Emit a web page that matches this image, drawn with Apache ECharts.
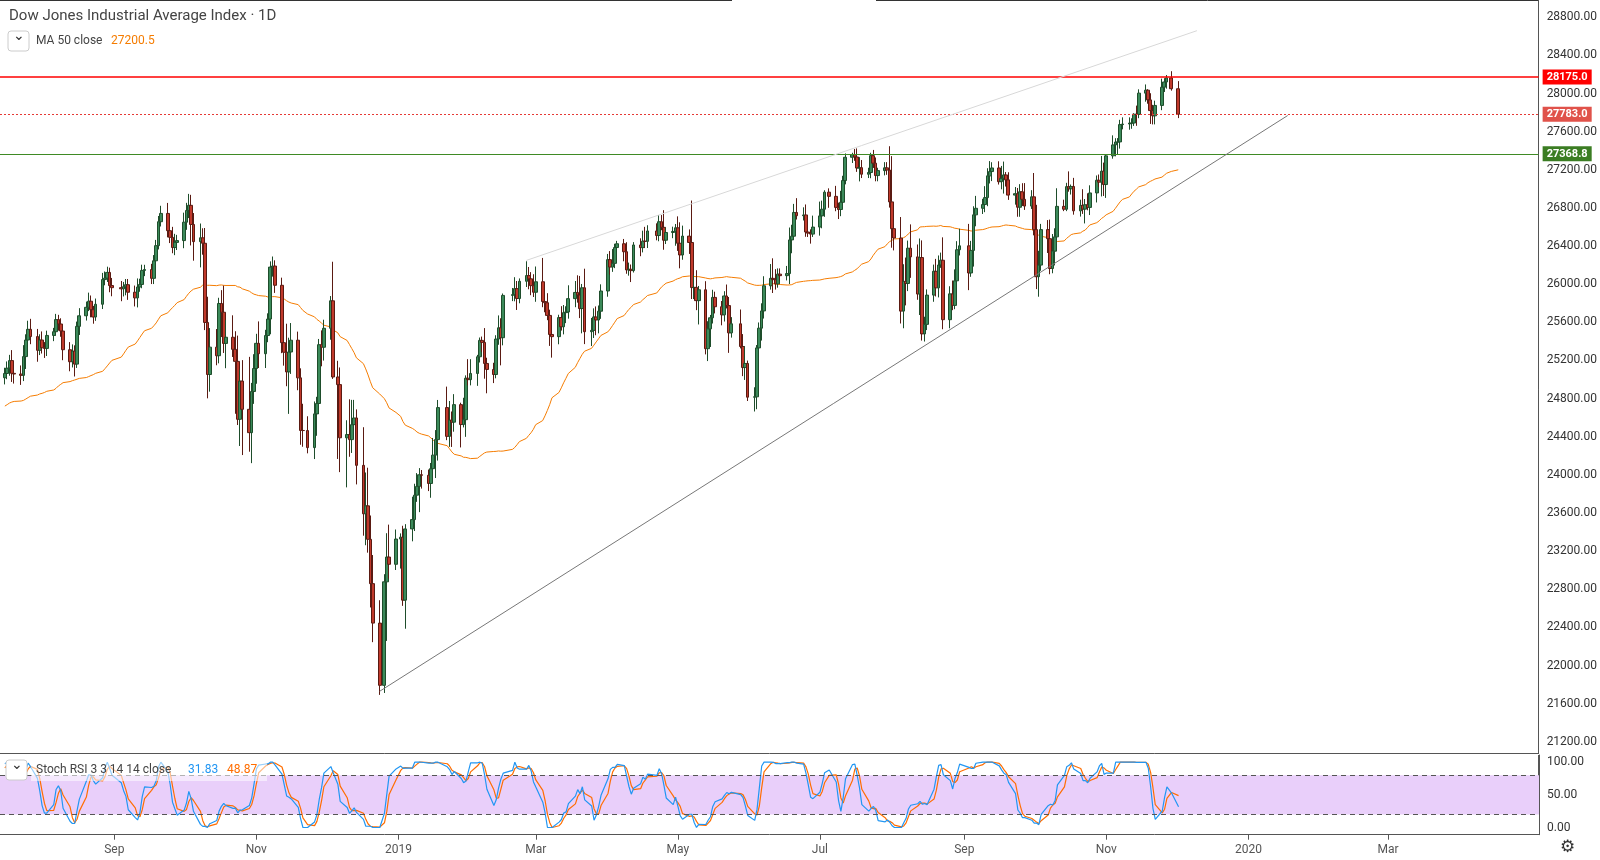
<!DOCTYPE html>
<html><head><meta charset="utf-8">
<script src="https://cdn.jsdelivr.net/npm/echarts@6/dist/echarts.min.js"></script>
<style>html,body{margin:0;padding:0;background:#fff}#c{width:1600px;height:860px}</style>
</head><body><div id="c"></div>
<script>
// ---- data ----
const title = 'Dow Jones Industrial Average Index · 1D';
const warmupCloses = [24262,24357,24360,24542,24739,24831,24899,24706,24768,24713,24715,24834,25013,24886,24834,24811,24753,24361,24667,24415,
 24635,24813,24799,25146,25241,25316,25322,25201,25175,25090,24987,24700,24657,24461,24580,24252,24283,24117,24216,24271,
 24307,24174,24356,24456,24776,24920,24919,24700,24924,25019];
const months = ['2018-07','2018-08','2018-09','2018-10','2018-11','2018-12','2019-01','2019-02','2019-03','2019-04','2019-05','2019-06','2019-07','2019-08','2019-09','2019-10','2019-11','2019-12'];
const dayNums = [
 [16,17,18,19,20,23,24,25,26,27,30,31],
 [1,2,3,6,7,8,9,10,13,14,15,16,17,20,21,22,23,24,27,28,29,30,31],
 [4,5,6,7,10,11,12,13,14,17,18,19,20,21,24,25,26,27,28],
 [1,2,3,4,5,8,9,10,11,12,15,16,17,18,19,22,23,24,25,26,29,30,31],
 [1,2,5,6,7,8,9,12,13,14,15,16,19,20,21,23,26,27,28,29,30],
 [3,4,6,7,10,11,12,13,14,17,18,19,20,21,24,26,27,28,31],
 [2,3,4,7,8,9,10,11,14,15,16,17,18,22,23,24,25,28,29,30,31],
 [1,4,5,6,7,8,11,12,13,14,15,19,20,21,22,25,26,27,28],
 [1,4,5,6,7,8,11,12,13,14,15,18,19,20,21,22,25,26,27,28,29],
 [1,2,3,4,5,8,9,10,11,12,15,16,17,18,22,23,24,25,26,29,30],
 [1,2,3,6,7,8,9,10,13,14,15,16,17,20,21,22,23,24,28,29,30,31],
 [3,4,5,6,7,10,11,12,13,14,17,18,19,20,21,24,25,26,27,28],
 [1,2,3,5,8,9,10,11,12,15,16,17,18,19,22,23,24,25,26,29,30,31],
 [1,2,5,6,7,8,9,12,13,14,15,16,19,20,21,22,23,26,27,28,29,30],
 [3,4,5,6,9,10,11,12,13,16,17,18,19,20,23,24,25,26,27,30],
 [1,2,3,4,7,8,9,10,11,14,15,16,17,18,21,22,23,24,25,28,29,30,31],
 [1,4,5,6,7,8,11,12,13,14,15,18,19,20,21,22,25,26,27,29],
 [2]];
const closes = [
 [25064,25120,25199,25065,25058,25044,25241,25415,25527,25451,25307,25415],
 [25333,25327,25463,25502,25629,25583,25509,25313,25187,25299,25162,25558,25669,25758,25822,25733,25656,25790,26049,26064,26124,25986,25964],
 [25952,25974,25995,25916,25857,25971,25998,26145,26154,26062,26246,26405,26656,26743,26562,26492,26385,26439,26458],
 [26651,26774,26828,26627,26447,26487,26430,25599,25053,25340,25250,25798,25706,25379,25444,25317,25191,24583,24984,24688,24443,24875,25116],
 [25380,25271,25462,25635,26180,26191,25989,25387,25286,25080,25289,25413,25018,24466,24465,24286,24640,24749,25366,25339,25538],
 [25826,25027,24947,24389,24423,24370,24527,24597,24100,23592,23675,23324,22859,22445,21792,22878,23138,23062,23327],
 [23346,22686,23433,23531,23787,23879,24001,23996,23910,24065,24207,24370,24706,24404,24575,24553,24737,24528,24579,25014,24999],
 [25064,25239,25411,25390,25169,25106,25053,25425,25543,25439,25883,25891,25954,25850,26031,26091,26057,25985,25916],
 [26026,25819,25806,25673,25473,25450,25650,25554,25702,25709,25849,25914,25887,25745,25963,25502,25516,25657,25625,25717,25929],
 [26258,26180,26219,26385,26425,26341,26150,26157,26143,26412,26384,26452,26450,26559,26511,26656,26597,26462,26543,26554,26592],
 [26430,26307,26505,26438,25965,25967,25828,25942,25324,25532,25648,25862,25764,25679,25877,25776,25490,25585,25347,25126,25169,24815],
 [24819,25332,25539,25720,25984,26062,26048,26004,26106,26090,26112,26465,26504,26753,26719,26727,26548,26536,26526,26600],
 [26717,26787,26966,26922,26806,26784,26860,27088,27332,27359,27335,27219,27223,27154,27172,27349,27270,27140,27192,27221,27198,26864],
 [26583,26485,25718,26030,26008,26378,26287,25897,26280,25479,25579,25886,26136,25962,26202,26252,25628,25899,25778,26036,26362,26403],
 [26118,26355,26728,26797,26836,26909,27137,27182,27220,27076,27111,27147,27095,26935,26950,26808,26970,26891,26820,26917],
 [26573,26079,26201,26573,26478,26165,26347,26497,26817,26787,27024,27001,27026,26770,26827,26788,26834,26806,26958,27091,27071,27186,27046],
 [27347,27462,27492,27493,27675,27681,27691,27691,27784,27782,28005,28036,27934,27822,27767,27876,28067,28122,28165,28051],
 [27783]];
const wickUp = [
 [60,70,60,110,80,90,120,60,90,110,80,60],
 [90,60,50,40,60,50,60,40,80,70,60,50,80,60,90,60,40,60,70,70,60,50,80],
 [70,50,60,60,70,90,60,60,50,60,60,60,60,80,110,90,110,90,60],
 [100,80,120,110,120,150,100,160,270,200,190,60,140,280,180,230,190,270,120,220,550,90,150],
 [100,230,60,60,60,100,60,80,260,300,150,180,90,100,280,150,130,70,60,150,90],
 [50,410,170,180,150,370,260,190,90,400,350,400,250,300,240,80,250,340,100],
 [40,120,50,240,120,140,70,50,60,60,180,100,80,220,200,90,110,20,230,30,200],
 [150,20,30,40,150,60,70,40,130,100,20,70,120,80,30,150,90,70,120],
 [160,250,170,100,60,150,30,120,80,60,140,120,180,200,40,200,130,90,110,60,70],
 [60,90,150,40,30,50,100,70,50,30,70,110,150,60,80,70,70,180,50,50,40],
 [120,220,110,70,440,130,180,40,90,80,30,80,60,60,50,120,90,70,150,130,180,30],
 [100,30,60,80,100,150,210,110,60,60,80,130,120,90,150,80,110,160,40,120],
 [150,90,20,40,110,50,120,50,40,20,60,90,110,80,50,30,60,60,30,60,60,250],
 [480,100,220,180,250,80,250,130,200,180,80,60,70,130,100,80,240,80,140,120,90,180],
 [230,100,90,130,60,120,80,110,60,70,130,140,30,80,70,60,80,90,170,70],
 [250,260,150,60,100,200,180,90,190,70,40,160,20,90,60,170,60,120,80,50,60,160,90],
 [10,100,40,40,50,70,60,50,10,90,40,60,10,70,60,50,90,40,30,70],
 [80]];
const wickDn = [
 [70,60,80,90,100,100,60,130,60,80,120,50],
 [60,100,80,60,40,70,60,110,100,60,130,40,90,50,40,80,70,40,50,60,40,70,90],
 [130,80,90,80,90,100,50,40,60,60,60,40,40,50,70,60,60,80,80],
 [80,80,80,220,200,270,120,80,250,180,100,80,260,100,260,80,550,60,280,480,200,320,130],
 [160,150,150,70,160,100,80,110,140,150,440,230,130,150,170,60,120,230,110,200,140],
 [120,20,780,360,520,180,140,120,200,230,330,140,250,200,100,80,620,150,60],
 [310,60,300,130,120,70,270,140,80,150,90,240,220,40,110,260,100,240,30,180,60],
 [60,130,60,100,160,250,90,40,60,290,80,60,70,120,50,60,110,100,50],
 [100,60,100,50,120,220,80,40,80,110,70,90,80,100,260,130,150,80,160,140,80],
 [60,80,50,50,40,100,40,60,120,20,90,50,70,70,50,60,30,100,40,60,150],
 [80,140,50,120,120,120,100,250,60,130,190,60,70,110,70,30,210,50,20,90,130,40],
 [150,130,120,130,80,40,140,60,40,50,50,110,140,30,40,50,50,40,100,30],
 [90,130,80,120,40,100,70,60,40,60,40,40,140,40,40,60,50,60,60,50,50,60],
 [200,130,130,180,230,80,220,60,220,70,80,60,70,90,100,30,100,90,50,40,40,60],
 [180,40,170,120,60,80,90,80,100,30,80,160,70,50,100,100,100,70,40,30],
 [60,130,210,60,150,60,50,150,50,20,20,30,60,40,60,50,150,30,80,100,50,150,120],
 [140,30,120,130,70,50,60,60,30,120,40,90,40,140,90,90,50,50,70,20],
 [40]];
const levelResist = 28175.0, levelLast = 27783.0, levelSupport = 27368.8;
const trendLower = [['2018-12-24',21730],['2020-01-18',27770]];
const trendUpper = [['2019-02-25',26250],['2019-12-10',28660]];
const axisMonths = ['2018-09-01','2018-11-01','2019-01-01','2019-03-01','2019-05-01','2019-07-01','2019-09-01','2019-11-01','2020-01-01','2020-03-01'];
const monthNames = ['Jan','Feb','Mar','Apr','May','Jun','Jul','Aug','Sep','Oct','Nov','Dec'];

// ---- build ----
const ts = s => { const p = s.split('-').map(Number); return Date.UTC(p[0], p[1]-1, p[2]); };
const candles = []; const allC = warmupCloses.slice(); const times = [];
let prev = warmupCloses[warmupCloses.length-1];
months.forEach((m, mi) => {
  dayNums[mi].forEach((d, di) => {
    const t = ts(m + '-' + String(d).padStart(2,'0'));
    const c = closes[mi][di], o = prev;
    const h = Math.max(o,c) + (wickUp[mi][di] ?? 50), l = Math.min(o,c) - (wickDn[mi][di] ?? 50);
    candles.push([t, o, c, l, h]); times.push(t); allC.push(c); prev = c;
  });
});
const W = warmupCloses.length;
const ma = [];
for (let i = W; i < allC.length; i++) { let s = 0; for (let k = i-49; k <= i; k++) s += allC[k]; ma.push([times[i-W], s/50]); }
const rsi = new Array(allC.length).fill(null);
let ag = 0, al = 0;
for (let i = 1; i <= 14; i++) { const d = allC[i]-allC[i-1]; if (d>0) ag += d; else al -= d; }
ag/=14; al/=14; rsi[14] = 100 - 100/(1+ag/(al||1e-9));
for (let i = 15; i < allC.length; i++) { const d = allC[i]-allC[i-1]; ag = (ag*13 + Math.max(d,0))/14; al = (al*13 + Math.max(-d,0))/14; rsi[i] = 100 - 100/(1+ag/(al||1e-9)); }
const st = new Array(allC.length).fill(null);
for (let i = 27; i < allC.length; i++) { let mn=1e9,mx=-1e9; for (let k=i-13;k<=i;k++){mn=Math.min(mn,rsi[k]);mx=Math.max(mx,rsi[k]);} st[i] = mx>mn ? (rsi[i]-mn)/(mx-mn)*100 : 50; }
const K = new Array(allC.length).fill(null), D = new Array(allC.length).fill(null);
for (let i = 29; i < allC.length; i++) K[i] = (st[i]+st[i-1]+st[i-2])/3;
for (let i = 31; i < allC.length; i++) D[i] = (K[i]+K[i-1]+K[i-2])/3;
const kData = [], dData = [];
for (let i = W; i < allC.length; i++) { kData.push([times[i-W], K[i]]); dData.push([times[i-W], D[i]]); }

const AX = 1539;                // price-axis x
const pxDay = 2.3288;
const xMin = ts('2018-09-01') - 114.3/pxDay*864e5;
const xMax = xMin + AX/pxDay*864e5;
const monthTs = axisMonths.map(ts);
const fmtMonth = v => { const d = new Date(v); return d.getUTCMonth()===0 ? String(d.getUTCFullYear()) : monthNames[d.getUTCMonth()]; };

const chart = echarts.init(document.getElementById('c'));
const font = 'Roboto, "Noto Sans", sans-serif';
const lastMA = ma[ma.length-1][1].toFixed(1), lastK = kData[kData.length-1][1].toFixed(2), lastD = dData[dData.length-1][1].toFixed(2);
const lvlLabel = (txt, bg) => ({ formatter: txt, backgroundColor: bg, color: '#fff', fontWeight: 'bold', fontSize: 11, padding: [2,4], distance: 4 });
chart.setOption({
  animation: false,
  textStyle: { fontFamily: font },
  grid: [
    { left: 0, right: 1600-AX, top: 0, height: 779.9 },
    { left: 0, right: 1600-AX, top: 755, height: 79.7 }
  ],
  xAxis: [
    { type: 'value', gridIndex: 0, min: xMin, max: xMax, show: false },
    { type: 'value', gridIndex: 1, min: xMin, max: xMax,
      axisLine: { show: true, onZero: false, lineStyle: { color: '#555' } },
      axisTick: { show: true, customValues: monthTs, length: 5, lineStyle: { color: '#555' } },
      axisLabel: { customValues: monthTs, formatter: fmtMonth, color: '#555', fontSize: 12, margin: 9 },
      splitLine: { show: false } }
  ],
  yAxis: [
    { type: 'value', gridIndex: 0, position: 'right', min: 20800, max: 28982, interval: 400,
      axisLine: { show: true, lineStyle: { color: '#555' } }, axisTick: { show: false }, splitLine: { show: false },
      axisLabel: { showMaxLabel: false, color: '#333', fontSize: 12, margin: 8, formatter: v => (v<21000||v>28900) ? '' : v.toFixed(2) } },
    { type: 'value', gridIndex: 1, position: 'right', min: -11, max: 111,
      axisLine: { show: true, lineStyle: { color: '#555' } }, axisTick: { show: false }, splitLine: { show: false },
      axisLabel: { customValues: [0,50,100], color: '#333', fontSize: 12, margin: 8, formatter: v => v.toFixed(2) } }
  ],
  series: [
    { type: 'candlestick', xAxisIndex: 0, yAxisIndex: 0, data: candles, barWidth: 3.2,
      itemStyle: { color: '#3b8a5a', color0: '#c0392b', borderColor: '#1e4d2b', borderColor0: '#5a1a12', borderWidth: 1 },
      markLine: { symbol: 'none', silent: true, animation: false,
        data: [
          { yAxis: levelResist, lineStyle: { color: '#ff0000', width: 1.5, type: 'solid' }, label: lvlLabel(levelResist.toFixed(1), '#ff0000') },
          { yAxis: levelLast, lineStyle: { color: '#e53935', width: 1, type: [2,2] }, label: lvlLabel(levelLast.toFixed(1), '#e0524a') },
          { yAxis: levelSupport, lineStyle: { color: '#3f8a24', width: 1.2, type: 'solid' }, label: lvlLabel(levelSupport.toFixed(1), '#3b7d23') },
          [ { coord: [ts(trendLower[0][0]), trendLower[0][1]], lineStyle: { color: '#777', width: 1, type: 'solid' }, label: { show: false } },
            { coord: [ts(trendLower[1][0]), trendLower[1][1]] } ],
          [ { coord: [ts(trendUpper[0][0]), trendUpper[0][1]], lineStyle: { color: '#d8d8d8', width: 1, type: 'solid' }, label: { show: false } },
            { coord: [ts(trendUpper[1][0]), trendUpper[1][1]] } ]
        ] } },
    { type: 'line', name: 'MA 50', xAxisIndex: 0, yAxisIndex: 0, data: ma, showSymbol: false, lineStyle: { color: '#f57c00', width: 1 }, z: 1 },
    { type: 'line', name: 'K', xAxisIndex: 1, yAxisIndex: 1, data: kData, showSymbol: false, lineStyle: { color: '#2196f3', width: 1.2 }, z: 3,
      markArea: { silent: true, itemStyle: { color: '#e9cffa' }, data: [[{ yAxis: 20 }, { yAxis: 80 }]] },
      markLine: { symbol: 'none', silent: true, label: { show: false }, lineStyle: { color: '#555', type: [5,4], width: 1 }, data: [{ yAxis: 20 }, { yAxis: 80 }] } },
    { type: 'line', name: 'D', xAxisIndex: 1, yAxisIndex: 1, data: dData, showSymbol: false, lineStyle: { color: '#ff6d00', width: 1.2 }, z: 2 }
  ],
  graphic: [
    { type: 'rect', shape: { x: 0, y: 754, width: AX, height: 1 }, style: { fill: '#fff' }, z: 90 },
    { type: 'line', shape: { x1: 0, y1: 753.5, x2: AX, y2: 753.5 }, style: { stroke: '#555', lineWidth: 1 }, z: 91 },
    { type: 'line', shape: { x1: 0, y1: 0.5, x2: 732, y2: 0.5 }, style: { stroke: '#333', lineWidth: 1 } },
    { type: 'line', shape: { x1: 876, y1: 0.5, x2: AX, y2: 0.5 }, style: { stroke: '#333', lineWidth: 1 } },
    { type: 'text', x: 9, y: 9, style: { text: title, fontSize: 15, fill: '#444', fontFamily: font } },
    { type: 'rect', shape: { x: 8, y: 31, width: 21, height: 20, r: 3 }, style: { fill: '#fff', stroke: '#ccc' } },
    { type: 'text', x: 13, y: 29, style: { text: '⌄', fontSize: 14, fill: '#333', fontFamily: 'DejaVu Sans' } },
    { type: 'text', x: 36, y: 35, style: { text: 'MA 50 close', fontSize: 12, fill: '#444', fontFamily: font } },
    { type: 'text', x: 111, y: 35, style: { text: lastMA, fontSize: 12, fill: '#f57c00', fontFamily: font } },
    { type: 'rect', shape: { x: 31, y: 761, width: 236, height: 20 }, style: { fill: 'rgba(255,255,255,0.55)' }, z: 50 },
    { type: 'rect', shape: { x: 6, y: 760, width: 21, height: 20, r: 3 }, style: { fill: '#fff', stroke: '#ccc' }, z: 50 },
    { type: 'text', x: 11, y: 758, style: { text: '⌄', fontSize: 14, fill: '#333', fontFamily: 'DejaVu Sans' }, z: 51 },
    { type: 'text', x: 36, y: 764, style: { text: 'Stoch RSI 3 3 14 14 close', fontSize: 12, fill: '#444', fontFamily: font }, z: 51 },
    { type: 'text', x: 188, y: 764, style: { text: lastK, fontSize: 12, fill: '#2196f3', fontFamily: font }, z: 51 },
    { type: 'text', x: 227, y: 764, style: { text: lastD, fontSize: 12, fill: '#ff6d00', fontFamily: font }, z: 51 },
    { type: 'text', x: 1560, y: 839, style: { text: '⚙', fontSize: 17, fill: '#333', fontFamily: 'DejaVu Sans' } }
  ]
});
</script></body></html>
